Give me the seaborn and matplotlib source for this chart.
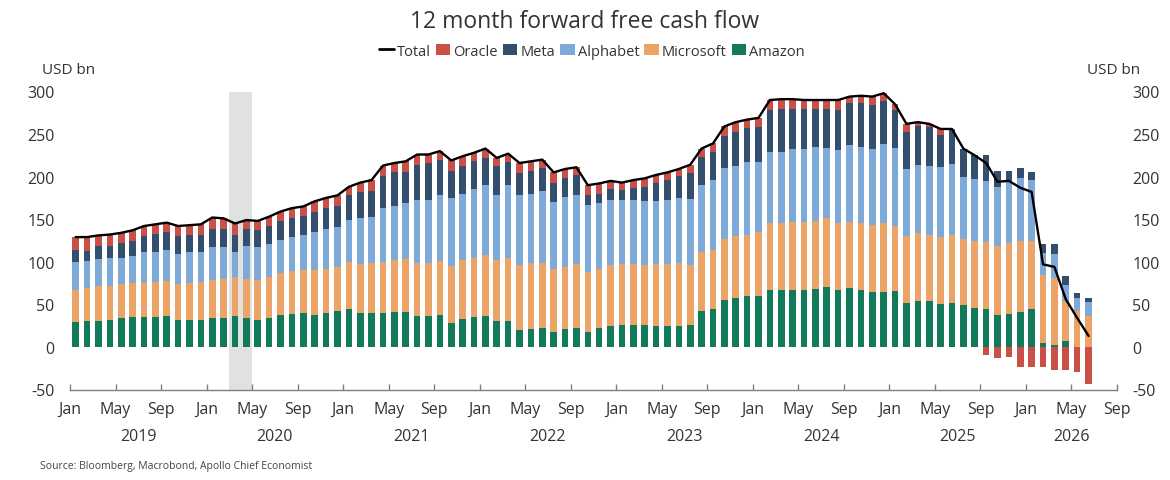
import numpy as np
import pandas as pd
import matplotlib
matplotlib.use("Agg")
import matplotlib.pyplot as plt
import matplotlib.transforms as mtransforms
from matplotlib.patches import Patch
from matplotlib.lines import Line2D
import seaborn as sns

# Monthly data, Jan 2019 .. Jun 2026 (USD bn)
amazon = [29, 30, 31, 32, 34, 35, 35, 35, 36, 32, 32, 32,
          34, 34, 36, 34, 32, 34, 37, 39, 40, 38, 40, 42,
          44, 40, 40, 40, 41, 41, 36, 36, 37, 28, 33, 35,
          36, 30, 31, 20, 21, 22, 18, 21, 22, 18, 22, 24,
          26, 26, 26, 24, 24, 25, 26, 42, 44, 55, 58, 60,
          60, 67, 67, 67, 67, 68, 70, 67, 69, 67, 64, 64,
          66, 52, 54, 54, 50, 52, 49, 46, 44, 37, 39, 41,
          44, 5, 2, 7, 0, 0]
microsoft = [38, 39, 40, 40, 40, 40, 40, 41, 42, 42, 43, 44,
             45, 46, 46, 46, 47, 48, 50, 50, 50, 52, 52, 52,
             56, 57, 58, 60, 61, 62, 63, 63, 64, 67, 69, 70,
             72, 72, 73, 76, 77, 77, 73, 73, 75, 70, 70, 72,
             71, 71, 70, 73, 73, 73, 70, 69, 70, 72, 72, 72,
             75, 78, 79, 80, 80, 80, 81, 78, 78, 79, 79, 81,
             76, 78, 80, 78, 79, 80, 78, 79, 79, 81, 83, 84,
             80, 80, 79, 47, 42, 36]
alphabet = [33, 32, 32, 32, 31, 32, 36, 36, 36, 35, 36, 35,
            38, 37, 30, 38, 38, 39, 39, 40, 41, 45, 46, 47,
            49, 55, 55, 63, 64, 66, 74, 74, 77, 80, 78, 81,
            82, 76, 86, 82, 82, 84, 79, 82, 82, 79, 77, 77,
            76, 76, 75, 74, 75, 77, 78, 79, 82, 83, 83, 85,
            82, 84, 83, 86, 85, 87, 83, 86, 90, 89, 90, 93,
            92, 79, 80, 81, 82, 83, 73, 72, 72, 70, 73, 73,
            72, 25, 28, 19, 15, 17]
meta = [14, 12, 15, 15, 17, 18, 19, 21, 21, 21, 21, 21,
        22, 21, 20, 20, 20, 21, 22, 22, 23, 24, 25, 25,
        29, 30, 30, 38, 39, 37, 41, 43, 42, 32, 33, 32,
        32, 34, 27, 26, 27, 27, 23, 22, 23, 12, 11, 13,
        11, 14, 17, 21, 24, 26, 30, 33, 33, 38, 40, 40,
        41, 49, 50, 47, 47, 45, 46, 47, 49, 51, 51, 51,
        44, 44, 46, 45, 38, 40, 33, 28, 31, 19, 12, 12,
        10, 11, 12, 10, 6, 4]
oracle = [15, 16, 13, 13, 12, 12, 12, 11, 11, 12, 11, 12,
          13, 13, 13, 11, 11, 11, 11, 12, 11, 12, 12, 12,
          10, 11, 13, 12, 11, 12, 12, 10, 10, 12, 11, 10,
          11, 10, 10, 12, 11, 10, 12, 11, 9, 11, 12, 9,
          9, 9, 10, 10, 9, 8, 10, 10, 10, 11, 11, 10,
          11, 12, 12, 11, 11, 10, 10, 12, 8, 9, 10, 9,
          7, 9, 4, 4, 7, 1, 0, 0, -10, -13, -12, -23,
          -24, -24, -27, -27, -29, -44]

month_labels = ["Jan", "May", "Sep"]
years = [2019, 2020, 2021, 2022, 2023, 2024, 2025, 2026]

series_names = ["Amazon", "Microsoft", "Alphabet", "Meta", "Oracle"]
colors = {"Amazon": "#107a5b", "Microsoft": "#eba466", "Alphabet": "#7eaad9",
          "Meta": "#344f6e", "Oracle": "#c94f47"}

n = len(amazon)
xpos = np.arange(n) + 0.5
df = pd.DataFrame({"x": xpos, "Amazon": amazon, "Microsoft": microsoft,
                   "Alphabet": alphabet, "Meta": meta, "Oracle": oracle})
df["Total"] = df[series_names].sum(axis=1)

sns.set_theme(style="white")
plt.rcParams["font.family"] = ["Open Sans", "DejaVu Sans"]
plt.rcParams["axes.unicode_minus"] = False
text_color = "#333333"

fig = plt.figure(figsize=(11.7, 4.81), dpi=100)
ax = fig.add_axes([70 / 1170, 1 - 390.5 / 481, (1117 - 70) / 1170, 298 / 481])

# recession shading
ax.axvspan(14, 16, color="#dfe2e1", zorder=0, lw=0)

width = 0.58
pos_bottom = np.zeros(n)
neg_bottom = np.zeros(n)
for name in series_names:
    vals = df[name].to_numpy(dtype=float)
    bottoms = np.where(vals >= 0, pos_bottom, neg_bottom)
    ax.bar(df["x"], vals, bottom=bottoms, width=width, color=colors[name],
           lw=0, zorder=2)
    pos_bottom = pos_bottom + np.where(vals >= 0, vals, 0)
    neg_bottom = neg_bottom + np.where(vals < 0, vals, 0)

sns.lineplot(data=df, x="x", y="Total", ax=ax, color="black", lw=1.7,
             zorder=3, legend=False)

ax.set_xlim(0, 92)
ax.set_ylim(-50, 300)
ax.set_xlabel("")
ax.set_ylabel("")
for s in ["top", "left", "right"]:
    ax.spines[s].set_visible(False)
ax.spines["bottom"].set_color("#7f7f7f")
ax.spines["bottom"].set_linewidth(1.0)
ax.spines["bottom"].set_position(("data", -50))

ticks = np.arange(0, 93, 4)
ax.set_xticks(ticks)
ax.set_xticklabels([month_labels[(t % 12) // 4] for t in ticks])
ax.set_xticks(np.arange(0, 93, 12), minor=True)
ax.tick_params(axis="x", which="major", direction="in", length=4, width=1,
               color="#7f7f7f", labelsize=11.5, labelcolor=text_color, pad=8,
               bottom=True)
ax.tick_params(axis="x", which="minor", direction="inout", length=9, width=1,
               color="#7f7f7f", bottom=True)

ax.set_yticks(np.arange(-50, 301, 50))
ax.tick_params(axis="y", left=False, right=False, labelleft=True,
               labelright=True, labelsize=11.5, labelcolor=text_color, pad=5)

# year labels
trans = mtransforms.blended_transform_factory(ax.transData, ax.transAxes)
for i, yr in enumerate(years):
    start = i * 12
    end = min(start + 12, 92)
    ax.text((start + end) / 2, -0.155, str(yr), transform=trans, ha="center",
            va="center", fontsize=11.5, color=text_color)

fig.text(0.5, 1 - 22 / 481, "12 month forward free cash flow", ha="center",
         va="center", fontsize=16.5, color=text_color)
fig.text(42 / 1170, 1 - 70 / 481, "USD bn", ha="left", va="center",
         fontsize=11, color=text_color)
fig.text(1140 / 1170, 1 - 70 / 481, "USD bn", ha="right", va="center",
         fontsize=11, color=text_color)
fig.text(40 / 1170, 1 - 466 / 481,
         "Source: Bloomberg, Macrobond, Apollo Chief Economist",
         ha="left", va="center", fontsize=7.5, color="#444444")

handles = [Line2D([0], [0], color="black", lw=2)]
labels = ["Total"]
for name in ["Oracle", "Meta", "Alphabet", "Microsoft", "Amazon"]:
    handles.append(Patch(facecolor=colors[name], edgecolor="none"))
    labels.append(name)
fig.legend(handles, labels, loc="center", bbox_to_anchor=(592 / 1170, 1 - 52 / 481),
           ncol=6, frameon=False, fontsize=10.5, handlelength=1.0,
           handleheight=0.75, handletextpad=0.2, columnspacing=0.35,
           labelcolor=text_color)

fig.savefig("out.png", dpi=100)
